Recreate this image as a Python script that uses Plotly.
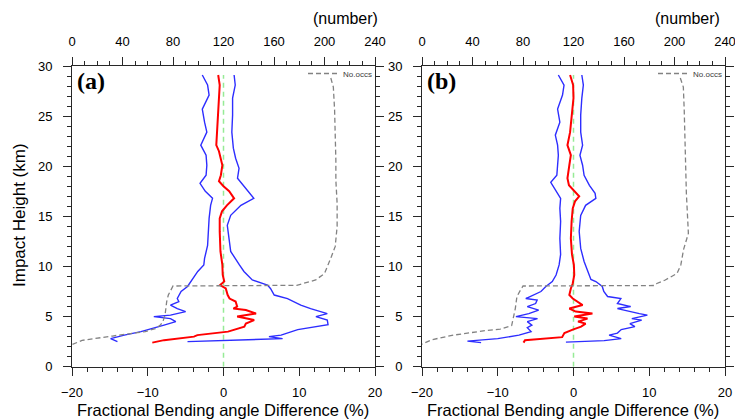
import plotly.graph_objects as go

# ---------------- panel (a) ----------------
a_mean_h = [29.1, 28.1, 26.8, 25.1, 23.4, 22.1, 21.5, 20.1, 19.1, 18.5, 18.0, 17.5, 16.8, 16.1,
            15.5, 14.8, 13.5, 11.5, 10.15, 9.15, 8.5, 8.15, 7.8, 7.15, 6.8, 6.5, 6.0, 5.8, 5.65,
            5.3, 5.0, 4.8, 4.65, 4.3, 4.0, 3.5, 3.15, 3.0, 2.65, 2.4]
a_mean_x = [-0.7, -0.5, -0.6, -0.75, -0.9, -0.95, -0.6, -0.15, -0.35, -0.6, 0.0, 0.75, 1.4, 0.45,
            -0.2, -0.5, -0.5, -0.4, -0.15, -0.1, 0.1, -0.45, 0.3, 0.55, 0.8, 1.6, 1.8, 1.3, 2.95,
            4.3, 1.8, 3.1, 4.05, 2.95, 2.75, 0.6, -3.45, -3.9, -7.85, -9.4]

a_lo_h = [29.1, 28.1, 27.1, 25.7, 24.4, 23.4, 22.1, 21.1, 20.1, 19.1, 18.3, 17.5, 16.8, 16.1,
          14.8, 13.5, 12.1, 10.8, 10.15, 9.5, 8.65, 8.0, 7.5, 6.8, 6.5, 6.15, 5.8, 5.5, 5.15,
          5.0, 4.8, 4.5, 4.15, 3.8, 3.5, 3.15, 2.8, 2.5]
a_lo_x = [-2.8, -2.1, -1.9, -2.8, -2.5, -2.2, -3.0, -2.3, -2.2, -2.3, -3.1, -2.4, -1.45, -1.7,
          -1.9, -2.0, -2.1, -2.5, -2.6, -3.4, -4.1, -4.75, -5.6, -6.1, -5.9, -7.0, -6.1, -5.0,
          -7.0, -9.2, -7.0, -6.3, -7.85, -9.6, -10.9, -13.1, -14.9, -14.0]

a_hi_h = [29.1, 28.1, 26.8, 25.1, 23.4, 21.8, 20.8, 19.8, 18.8, 17.8, 16.8, 16.1, 15.1, 14.1,
          12.8, 11.5, 10.15, 9.5, 8.65, 8.15, 7.8, 7.15, 6.8, 6.15, 5.8, 5.5, 5.3, 5.0, 4.65,
          4.2, 4.0, 3.7, 3.15, 3.0, 2.8, 2.5]
a_hi_x = [1.4, 1.55, 1.2, 1.2, 1.1, 1.3, 1.6, 2.05, 1.85, 2.95, 4.0, 2.3, 0.95, 0.5,
          0.75, 0.95, 2.1, 2.7, 3.8, 5.8, 6.2, 6.7, 8.45, 10.2, 11.5, 12.85, 13.7, 12.2, 13.7,
          13.8, 12.0, 9.8, 7.6, 6.0, 7.8, -4.75]

a_occ_h = [28.8, 27.9, 25.6, 22.3, 20.6, 18.6, 16.3, 14.0, 12.0, 11.0, 10.15, 9.3, 8.65, 8.35,
           8.12, 8.05, 7.8, 7.15, 6.5, 5.8, 5.15, 4.5, 4.15, 3.8, 3.5, 3.06, 2.63, 2.2]
a_occ_n = [205, 207, 208, 209, 209, 209, 210, 210, 208.5, 205.5, 203, 200, 193, 185,
           178, 80, 79, 76.3, 75, 74.4, 73.7, 72, 70, 66, 58, 32, 8, 0]

# ---------------- panel (b) ----------------
b_mean_h = [29.1, 28.1, 26.8, 25.1, 23.4, 22.1, 21.1, 20.1, 18.8, 18.1, 17.5, 17.0, 16.5, 15.8,
            14.5, 12.8, 11.2, 10.15, 9.15, 8.3, 7.8, 7.15, 6.8, 6.5, 6.15, 5.8, 5.5, 5.3, 5.0,
            4.8, 4.5, 4.3, 4.0, 3.7, 3.35, 2.95, 2.75, 2.65, 2.4]
b_mean_x = [-0.45, -0.05, 0.0, -0.2, -0.45, -0.8, -0.35, -0.55, -0.8, -0.6, 0.2, 0.75, 0.2, -0.1,
            -0.25, -0.35, -0.2, 0.05, 0.1, -0.1, -0.35, -0.55, -0.1, 0.5, 1.2, -0.55, 0.3, 2.5,
            0.1, 1.85, 0.6, 1.6, 1.0, -0.1, -1.2, -1.5, -5.5, -6.4, -6.6]

b_lo_h = [29.1, 28.1, 27.1, 25.7, 24.4, 23.1, 22.1, 21.1, 20.1, 19.1, 18.4, 17.5, 16.8, 15.8,
          14.5, 12.8, 11.2, 10.15, 9.15, 8.5, 8.0, 7.5, 7.0, 6.8, 6.65, 6.3, 6.0, 5.65, 5.3,
          5.0, 4.8, 4.5, 4.15, 3.9, 3.5, 3.15, 2.8, 2.55, 2.4]
b_lo_x = [-2.0, -1.25, -1.45, -2.1, -1.8, -2.4, -2.1, -2.0, -2.1, -2.2, -3.0, -2.3, -1.7, -1.8,
          -1.7, -1.8, -1.7, -1.9, -2.3, -2.8, -3.65, -4.3, -5.6, -6.3, -4.8, -5.0, -6.1, -4.6,
          -5.9, -7.6, -4.75, -6.1, -5.5, -6.1, -5.6, -7.2, -10.0, -14.0, -12.2]

b_hi_h = [29.1, 28.1, 26.8, 25.1, 23.4, 22.1, 21.1, 20.1, 19.1, 18.1, 17.3, 16.8, 16.1, 15.1,
          13.5, 11.8, 10.5, 9.5, 8.7, 8.5, 8.0, 7.5, 7.0, 6.8, 6.3, 6.0, 5.8, 5.3, 5.15, 4.8,
          4.65, 4.3, 4.0, 3.7, 3.35, 3.15, 2.8, 2.6, 2.45]
b_hi_x = [1.1, 1.3, 1.1, 0.95, 0.95, 1.2, 0.85, 1.2, 1.4, 2.1, 2.85, 2.95, 1.6, 0.95,
          0.75, 0.95, 1.4, 1.85, 2.3, 2.95, 3.8, 4.0, 4.5, 6.25, 5.8, 7.55, 5.8, 8.7, 9.75, 7.7,
          9.0, 7.45, 8.1, 6.3, 5.8, 4.7, 6.3, 4.05, -1.0]

b_occ_h = [28.8, 27.9, 25.6, 20.6, 17.3, 13.3, 11.7, 10.15, 9.3, 8.65, 8.3, 8.1, 8.05, 7.65,
           7.0, 5.8, 5.0, 4.1, 3.75, 3.6, 3.15, 2.7, 2.25]
b_occ_n = [204.6, 207, 207.7, 208.6, 209.4, 211, 207.2, 205, 202, 192.7, 186, 184, 80, 78,
           75.2, 73.9, 72.6, 71, 62, 50, 25, 8, 0]

# zero reference line
zero_x = [0, 0]
zero_h = [0, 29.1]

pct_ticks = [-20, -10, 0, 10, 20]
num_ticks = [0, 40, 80, 120, 160, 200, 240]
height_ticks = [0, 5, 10, 15, 20, 25, 30]

BLUE = "rgb(45,45,255)"
RED = "rgb(255,0,0)"
GRAY = "rgb(130,130,130)"
GREEN = "rgb(150,235,150)"
AXC = "rgb(40,40,40)"
FONT = "Liberation Sans, Arial, sans-serif"

W, H = 735, 420
y_dom = [(H - 366.7) / H, (H - 66) / H]
a_dom = [72 / W, 375 / W]
b_dom = [422 / W, 725 / W]

fig = go.Figure()


def add_panel(xa, xt, ya, lg, mean_h, mean_x, lo_h, lo_x, hi_h, hi_x, occ_h, occ_n):
    fig.add_trace(go.Scatter(x=zero_x, y=zero_h, mode="lines", xaxis=xa, yaxis=ya,
                             line=dict(color=GREEN, width=1.5, dash="5px,4px"),
                             showlegend=False, hoverinfo="skip"))
    fig.add_trace(go.Scatter(x=lo_x, y=lo_h, mode="lines", xaxis=xa, yaxis=ya,
                             line=dict(color=BLUE, width=1.4), showlegend=False))
    fig.add_trace(go.Scatter(x=hi_x, y=hi_h, mode="lines", xaxis=xa, yaxis=ya,
                             line=dict(color=BLUE, width=1.4), showlegend=False))
    fig.add_trace(go.Scatter(x=mean_x, y=mean_h, mode="lines", xaxis=xa, yaxis=ya,
                             line=dict(color=RED, width=2.0), showlegend=False))
    fig.add_trace(go.Scatter(x=occ_n, y=occ_h, mode="lines", xaxis=xt, yaxis=ya,
                             line=dict(color=GRAY, width=1.3, dash="5px,3px"),
                             name="No.occs", showlegend=True, legend=lg))


add_panel("x", "x2", "y", "legend", a_mean_h, a_mean_x, a_lo_h, a_lo_x, a_hi_h, a_hi_x,
          a_occ_h, a_occ_n)
add_panel("x3", "x4", "y2", "legend2", b_mean_h, b_mean_x, b_lo_h, b_lo_x, b_hi_h, b_hi_x,
          b_occ_h, b_occ_n)

tickfont = dict(family=FONT, size=13, color="black")


def pct_axis(dom, anchor):
    return dict(domain=dom, anchor=anchor, range=[-20, 20], tickvals=pct_ticks,
                ticks="outside", ticklen=8, tickwidth=1, tickcolor=AXC,
                showline=True, linecolor=AXC, linewidth=1, mirror=False,
                showgrid=False, zeroline=False, tickfont=tickfont, automargin=False,
                ticklabelstandoff=6, ticklabeloverflow="allow",
                minor=dict(dtick=2, ticks="outside", ticklen=4, tickcolor=AXC, showgrid=False))


def num_axis(over, anchor):
    return dict(overlaying=over, anchor=anchor, side="top", range=[0, 240], tickvals=num_ticks,
                ticks="outside", ticklen=8, tickwidth=1, tickcolor=AXC,
                showline=True, linecolor=AXC, linewidth=1,
                showgrid=False, zeroline=False, tickfont=tickfont, automargin=False,
                ticklabelstandoff=6, ticklabeloverflow="allow",
                minor=dict(dtick=10, ticks="outside", ticklen=4, tickcolor=AXC, showgrid=False))


def height_axis(anchor):
    return dict(domain=y_dom, anchor=anchor, range=[0, 30], tickvals=height_ticks,
                ticks="outside", ticklen=8, tickwidth=1, tickcolor=AXC,
                showline=True, linecolor=AXC, linewidth=1, mirror="ticks",
                showgrid=False, zeroline=False, tickfont=tickfont, automargin=False,
                ticklabelstandoff=8, ticklabeloverflow="allow",
                minor=dict(dtick=1, ticks="outside", ticklen=4, tickcolor=AXC, showgrid=False))


legend_style = dict(font=dict(family=FONT, size=8, color="rgb(60,60,60)"),
                    bgcolor="rgba(0,0,0,0)", borderwidth=0, xanchor="right", yanchor="top",
                    itemwidth=30, tracegroupgap=0)

fig.update_layout(
    width=W, height=H,
    margin=dict(l=0, r=0, t=0, b=0),
    paper_bgcolor="white", plot_bgcolor="white",
    xaxis=pct_axis(a_dom, "y"),
    xaxis2=num_axis("x", "y"),
    yaxis=height_axis("x"),
    xaxis3=pct_axis(b_dom, "y2"),
    xaxis4=num_axis("x3", "y2"),
    yaxis2=height_axis("x3"),
    legend=dict(x=377 / W, y=(H - 59) / H, **legend_style),
    legend2=dict(x=727 / W, y=(H - 59) / H, **legend_style),
)

title_font = dict(family=FONT, size=16.5, color="black")
num_font = dict(family=FONT, size=16, color="black")
serif_font = dict(family="Liberation Serif, Times New Roman, serif", size=24, color="black")
annotations = [
    dict(text="Impact Height (km)", x=20 / W, y=(H - 215) / H, textangle=-90,
         font=dict(family=FONT, size=17, color="black")),
    dict(text="Fractional Bending angle Difference (%)", x=223 / W, y=(H - 409.5) / H,
         font=title_font),
    dict(text="Fractional Bending angle Difference (%)", x=573 / W, y=(H - 409.5) / H,
         font=title_font),
    dict(text="(number)", x=345 / W, y=(H - 19) / H, font=num_font),
    dict(text="(number)", x=687 / W, y=(H - 19) / H, font=num_font),
    dict(text="<b>(a)</b>", x=75 / W, y=(H - 81) / H, xanchor="left", font=serif_font),
    dict(text="<b>(b)</b>", x=425 / W, y=(H - 81) / H, xanchor="left", font=serif_font),
]
for a in annotations:
    a.setdefault("xanchor", "center")
    a["yanchor"] = "middle"
    a["xref"] = "paper"
    a["yref"] = "paper"
    a["showarrow"] = False
fig.update_layout(annotations=annotations)

fig.write_html("out.html")
